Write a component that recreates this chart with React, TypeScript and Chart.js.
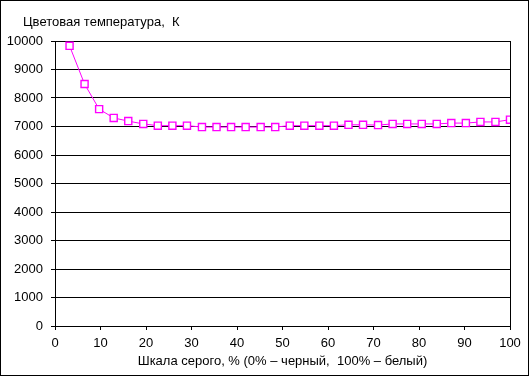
import React, { useEffect, useRef } from "react";
import { Chart, registerables } from "chart.js";

Chart.register(...registerables);

const chartTitle = "Цветовая температура,  К";
const xAxisTitle = "Шкала серого, % (0% – черный,  100% – белый)";
const grayLevels = [3.2, 6.5, 9.7, 12.9, 16.1, 19.4, 22.6, 25.8, 29.0, 32.3, 35.5, 38.7, 41.9, 45.2, 48.4, 51.6, 54.8, 58.1, 61.3, 64.5, 67.7, 71.0, 74.2, 77.4, 80.6, 83.9, 87.1, 90.3, 93.5, 96.8, 100];
const colorTemps = [9830, 8490, 7610, 7300, 7190, 7090, 7030, 7030, 7030, 6980, 6980, 6980, 6980, 6980, 6980, 7030, 7030, 7030, 7030, 7060, 7060, 7050, 7090, 7090, 7090, 7090, 7120, 7120, 7160, 7160, 7240];

const FONT = "'Liberation Sans', Arial, sans-serif";

const framePlugin = {
  id: "frame",
  beforeDatasetsDraw(chart: any) {
    const { ctx, chartArea } = chart;
    ctx.save();
    ctx.strokeStyle = "#000";
    ctx.lineWidth = 1;
    ctx.beginPath();
    const r = Math.round(chartArea.right) + 0.5;
    ctx.moveTo(r, Math.round(chartArea.top));
    ctx.lineTo(r, Math.round(chartArea.bottom) + 1);
    ctx.stroke();
    ctx.restore();
  },
  afterDraw(chart: any) {
    const { ctx } = chart;
    ctx.save();
    ctx.strokeStyle = "#000";
    ctx.lineWidth = 1;
    ctx.strokeRect(0.5, 0.5, 528, 375);
    ctx.fillStyle = "#000";
    ctx.font = `13px ${FONT}`;
    ctx.textAlign = "left";
    ctx.textBaseline = "middle";
    ctx.fillText(chartTitle, 23, 22);
    ctx.restore();
  },
};

export default function App() {
  const ref = useRef<HTMLCanvasElement>(null);
  useEffect(() => {
    document.body.style.margin = "0";
    const chart = new Chart(ref.current!, {
      type: "line",
      data: {
        datasets: [
          {
            data: grayLevels.map((x, i) => ({ x, y: colorTemps[i] })),
            borderColor: "#FF00FF",
            borderWidth: 1,
            pointStyle: "rect",
            pointRadius: 5,
            pointBorderWidth: 1.4,
            pointBackgroundColor: "#FFFFFF",
            pointBorderColor: "#FF00FF",
            tension: 0,
          },
        ],
      },
      options: {
        responsive: false,
        animation: false,
        layout: { padding: { top: 41, right: 20, left: 0, bottom: 0 } },
        plugins: { legend: { display: false }, tooltip: { enabled: false }, title: { display: false } },
        scales: {
          x: {
            type: "linear",
            min: 0,
            max: 100,
            ticks: { stepSize: 10, color: "#000", font: { family: FONT, size: 13 }, padding: 6, maxRotation: 0, callback: (v: any) => String(v) },
            grid: { drawOnChartArea: false, drawTicks: true, tickLength: 4, color: "#000" },
            border: { color: "#000", width: 1 },
            title: { display: true, text: xAxisTitle, color: "#000", font: { family: FONT, size: 13 }, padding: { top: 4, bottom: 8 } },
            afterFit(scale: any) {
              scale.height = 51;
            },
          },
          y: {
            min: 0,
            max: 10000,
            ticks: { stepSize: 1000, color: "#000", font: { family: FONT, size: 13 }, padding: 8, callback: (v: any) => String(v) },
            grid: { color: "#000", lineWidth: 1, tickLength: 4 },
            border: { color: "#000", width: 1 },
            afterFit(scale: any) {
              scale.width = 55;
            },
          },
        },
      },
      plugins: [framePlugin],
    });
    return () => chart.destroy();
  }, []);
  return <canvas ref={ref} width={530} height={377} style={{ display: "block" }} />;
}
